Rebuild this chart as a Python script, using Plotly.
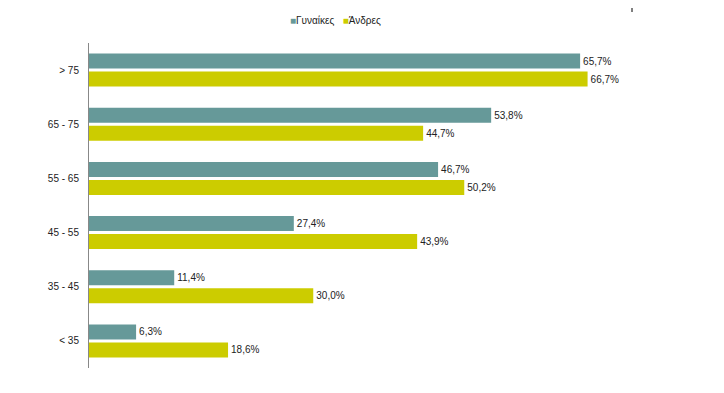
import plotly.graph_objects as go

categories = ["> 75", "65 - 75", "55 - 65", "45 - 55", "35 - 45", "&lt; 35"]
women = [65.7, 53.8, 46.7, 27.4, 11.4, 6.3]
men = [66.7, 44.7, 50.2, 43.9, 30.0, 18.6]
series_names = ["Γυναίκες", "Άνδρες"]

teal = "#669999"
yellow = "#cccc00"
font_family = "Liberation Sans, Arial, sans-serif"

fig = go.Figure()
for name, vals, col in [(series_names[0], women, teal), (series_names[1], men, yellow)]:
    fig.add_trace(go.Bar(
        y=categories, x=vals, name=name, orientation="h",
        marker=dict(color=col, line=dict(width=0)),
        texttemplate="%{x:.1f}%", textposition="outside",
        textfont=dict(size=10, color="#222222", family=font_family),
        cliponaxis=False, showlegend=False,
    ))

legend_text = (f"<span style='color:{teal}'>■</span>{series_names[0]}"
               f"   <span style='color:{yellow}'>■</span>{series_names[1]}")

fig.update_layout(
    width=724, height=393,
    margin=dict(l=81, r=45, t=35, b=33, autoexpand=False),
    paper_bgcolor="white", plot_bgcolor="white",
    separators=",.",
    barmode="group", bargap=0.335, bargroupgap=0.167,
    font=dict(family=font_family, size=10, color="#222222"),
    xaxis=dict(range=[0, 80], visible=False, fixedrange=True),
    yaxis=dict(autorange="reversed", showline=True, linecolor="#888888", linewidth=1,
               showgrid=False, ticks="", ticklabelstandoff=7, zeroline=False),
    annotations=[dict(text=legend_text, xref="paper", yref="paper", x=0.413, y=1.068,
                      xanchor="center", yanchor="middle", showarrow=False,
                      font=dict(size=10, color="#222222", family=font_family))],
    shapes=[dict(type="line", xref="paper", yref="paper", x0=(624-81)/598, x1=(624-81)/598,
                 y0=1 + 31/325, y1=1 + 35/325, line=dict(color="black", width=1))],
)

fig.write_html("out.html")
